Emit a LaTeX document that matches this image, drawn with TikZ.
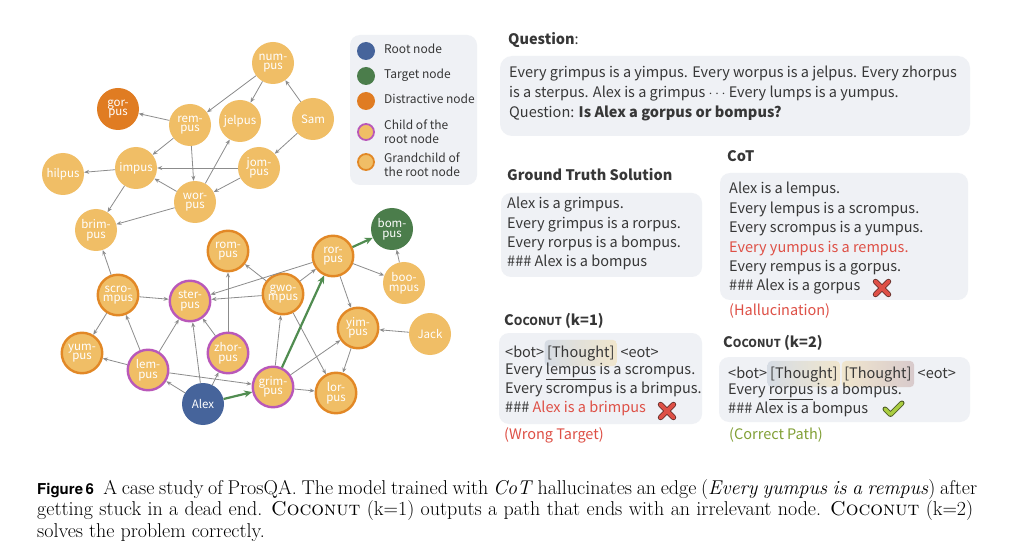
\documentclass[tikz,border=0pt]{standalone}
\usepackage{fontspec}
\usetikzlibrary{arrows.meta}
\newfontfamily\pf{Noto Sans CJK KR}
\newfontfamily\figf{TeX Gyre Heros}
\definecolor{gfill}{RGB}{240,190,102}
\definecolor{gcborder}{RGB}{226,136,38}
\definecolor{chborder}{RGB}{185,88,185}
\definecolor{rootc}{RGB}{70,100,155}
\definecolor{targetc}{RGB}{75,125,75}
\definecolor{distc}{RGB}{224,124,34}
\definecolor{edgec}{RGB}{140,140,140}
\definecolor{pathc}{RGB}{80,140,80}
\definecolor{panelc}{RGB}{239,241,245}
\definecolor{txtc}{RGB}{55,55,55}
\definecolor{redc}{RGB}{222,80,70}
\definecolor{xdark}{RGB}{110,50,45}
\definecolor{okc}{RGB}{130,160,55}
\definecolor{checkc}{RGB}{170,205,65}
\definecolor{ckdark}{RGB}{80,95,40}
\definecolor{thA}{RGB}{214,220,228}
\definecolor{thB}{RGB}{240,230,205}
\definecolor{thC}{RGB}{216,202,204}
\begin{document}
\begin{tikzpicture}[x=1pt,y=-1pt,
  nd/.style={circle, minimum size=42pt, inner sep=0pt, fill=gfill, text=white,
    font=\pf\fontsize{11.5}{9.5}\selectfont, align=center},
  gc/.style={nd, draw=gcborder, line width=2.4pt, minimum size=40.5pt},
  ch/.style={nd, draw=chborder, line width=2.4pt, minimum size=40.5pt},
  rootn/.style={nd, fill=rootc},
  targn/.style={nd, fill=targetc},
  distn/.style={nd, fill=distc},
  ed/.style={draw=edgec, line width=0.8pt, -{Stealth[length=5pt,width=4pt]}},
  gp/.style={draw=pathc, line width=2.2pt, -{Stealth[length=8pt,width=7pt]}},
  txt/.style={font=\pf\fontsize{14.5}{16}\selectfont, text=txtc, inner sep=0pt},
  hdr/.style={font=\pf\bfseries\fontsize{14.5}{16}\selectfont, text=txtc, inner sep=0pt},
  leg/.style={font=\pf\fontsize{12}{14}\selectfont, text=txtc, inner sep=0pt, align=left},
  legc/.style={circle, minimum size=18pt, inner sep=0pt},
  thought/.style={rounded corners=4pt, inner xsep=2.5pt, inner ysep=5.5pt, font=\pf\fontsize{14.5}{16}\selectfont, text=txtc},
  captext/.style={font=\fontsize{20}{21}\selectfont, inner sep=0pt, text=black},
  xmark/.pic={\draw[line width=5.4pt, draw=xdark, line cap=round] (-6.5,-6.5)--(6.5,6.5) (-6.5,6.5)--(6.5,-6.5);
              \draw[line width=3.6pt, draw=redc, line cap=round] (-6.5,-6.5)--(6.5,6.5) (-6.5,6.5)--(6.5,-6.5);},
  ckmark/.pic={\draw[line width=5pt, draw=ckdark, line cap=round, line join=round] (-8,0)--(-2.5,5.5)--(9,-6);
               \draw[line width=3.3pt, draw=checkc, line cap=round, line join=round] (-8,0)--(-2.5,5.5)--(9,-6);}
]
\useasboundingbox (0,0) rectangle (1018,556);
\fill[white] (0,0) rectangle (1018,556);

% ---------- graph nodes ----------
\node[nd] (num) at (273,63) {num-\\pus};
\node[distn] (gor) at (118,109) {gor-\\pus};
\node[nd] (rem) at (190,125) {rem-\\pus};
\node[nd] (jel) at (240,121) {jelpus};
\node[nd] (sam) at (313,119) {Sam};
\node[nd] (imp) at (136,168) {impus};
\node[nd] (hil) at (63,174) {hilpus};
\node[nd] (jom) at (259,168) {jom-\\pus};
\node[nd] (wor) at (195,202) {wor-\\pus};
\node[nd] (brim) at (96,230) {brim-\\pus};
\node[gc] (scro) at (118,295) {scro-\\mpus};
\node[ch] (ster) at (190,301) {ster-\\pus};
\node[gc] (yum) at (82,353) {yum-\\pus};
\node[ch] (lem) at (148,370) {lem-\\pus};
\node[rootn] (alex) at (203,404) {Alex};
\node[gc] (rom) at (228,251) {rom-\\pus};
\node[gc] (ror) at (333,256) {ror-\\pus};
\node[targn] (bom) at (392,229) {bom-\\pus};
\node[gc] (gwo) at (283,294) {gwo-\\mpus};
\node[nd] (boo) at (404,283) {boo-\\mpus};
\node[gc] (yim) at (358,328) {yim-\\pus};
\node[nd] (jack) at (430,334) {Jack};
\node[ch] (zhor) at (228,353) {zhor-\\pus};
\node[ch] (grim) at (273,387) {grim-\\pus};
\node[gc] (lor) at (336,393) {lor-\\pus};

% ---------- edges ----------
\draw[ed] (num) -- (rem);
\draw[ed] (num) -- (jel);
\draw[ed] (sam) -- (num);
\draw[ed] (sam) -- (jom);
\draw[ed] (rem) -- (gor);
\draw[ed] (rem) -- (imp);
\draw[ed] (rem) -- (wor);
\draw[ed] (jom) -- (imp);
\draw[ed] (jom) -- (wor);
\draw[ed] (wor) -- (imp);
\draw[ed] (wor) -- (jel);
\draw[ed] (wor) -- (brim);
\draw[ed] (imp) -- (hil);
\draw[ed] (imp) -- (brim);
\draw[ed] (scro) -- (brim);
\draw[ed] (scro) -- (yum);
\draw[ed] (scro) -- (ster);
\draw[ed] (lem) -- (scro);
\draw[ed] (lem) -- (yum);
\draw[ed] (lem) -- (ster);
\draw[ed] (lem) -- (grim);
\draw[ed] (alex) -- (lem);
\draw[ed] (alex) -- (ster);
\draw[ed] (alex) -- (zhor);
\draw[ed] (zhor) -- (ster);
\draw[ed] (zhor) -- (rom);
\draw[ed] (gwo) -- (ster);
\draw[ed] (gwo) -- (rom);
\draw[ed] (gwo) -- (ror);
\draw[ed] (gwo) -- (lor);
\draw[ed] (ror) -- (ster);
\draw[ed] (ror) -- (boo);
\draw[ed] (ror) -- (yim);
\draw[ed] (grim) -- (gwo);
\draw[ed] (grim) -- (yim);
\draw[ed] (grim) -- (lor);
\draw[ed] (yim) -- (lor);
\draw[ed] (jack) -- (yim);
\draw[ed] (boo) -- (bom);
\draw[gp] (alex) -- (grim);
\draw[gp] (grim) -- (ror);
\draw[gp] (ror) -- (bom);

% ---------- legend ----------
\fill[panelc, rounded corners=10pt] (350,35) rectangle (477,185);
\node[legc, fill=rootc] (l1) at (366,51) {};
\node[legc, fill=targetc] (l2) at (366,76) {};
\node[legc, fill=distc] (l3) at (366,101) {};
\node[legc, fill=gfill, draw=chborder, line width=1.8pt, minimum size=16pt] (l4) at (366,132) {};
\node[legc, fill=gfill, draw=gcborder, line width=1.8pt, minimum size=16pt] (l5) at (366,162) {};
\node[leg, anchor=mid west] (t1) at (384,51) {Root node};
\node[leg, anchor=mid west] (t2) at (384,76) {Target node};
\node[leg, anchor=mid west] (t3) at (384,101) {Distractive node};
\node[leg, anchor=west] (t4) at (384,132) {Child of the\\root node};
\node[leg, anchor=west] (t5) at (384,165) {Grandchild of\\the root node};

% ---------- question ----------
\node[anchor=mid west, inner sep=0pt, text=txtc, font=\pf\fontsize{14.5}{16}\selectfont] (qh) at (508,42) {\textbf{Question}:};
\fill[panelc, rounded corners=12pt] (500,56) rectangle (970,136);
\node[txt, anchor=mid west] (q1) at (509,75) {Every grimpus is a yimpus. Every worpus is a jelpus. Every zhorpus};
\node[txt, anchor=mid west] (q2) at (509,95) {is a sterpus. Alex is a grimpus $\cdots$ Every lumps is a yumpus.};
\node[txt, anchor=mid west] (q3) at (509,115) {Question: \textbf{Is Alex a gorpus or bompus?}};

% ---------- ground truth ----------
\node[hdr, anchor=mid west] (gth) at (507,178) {Ground Truth Solution};
\fill[panelc, rounded corners=10pt] (501,193) rectangle (702,277);
\node[txt, anchor=mid west] (g1) at (507,206) {Alex is a grimpus.};
\node[txt, anchor=mid west] (g2) at (507,226) {Every grimpus is a rorpus.};
\node[txt, anchor=mid west] (g3) at (507,245) {Every rorpus is a bompus.};
\node[txt, anchor=mid west] (g4) at (507,264) {\#\#\# Alex is a bompus};

% ---------- CoT ----------
\node[hdr, anchor=mid west] (coth) at (727,159) {CoT};
\fill[panelc, rounded corners=10pt] (720,173) rectangle (968,300);
\node[txt, anchor=mid west] (c1) at (729,191) {Alex is a lempus.};
\node[txt, anchor=mid west] (c2) at (729,211) {Every lempus is a scrompus.};
\node[txt, anchor=mid west] (c3) at (729,230) {Every scrompus is a yumpus.};
\node[txt, anchor=mid west, text=redc] (c4) at (729,250) {Every yumpus is a rempus.};
\node[txt, anchor=mid west] (c5) at (729,269) {Every rempus is a gorpus.};
\node[txt, anchor=mid west] (c6) at (729,288) {\#\#\# Alex is a gorpus};
\pic at (882,288) {xmark};
\node[txt, anchor=mid west, text=redc] (c7) at (729,313) {(Hallucination)};

% ---------- Coconut k=1 ----------
\node[hdr, anchor=mid west] (k1h) at (504,323) {C{\fontsize{11}{12}\selectfont OCONUT} (k=1)};
\fill[panelc, rounded corners=10pt] (499,333) rectangle (702,424);
\node[txt, anchor=base west] (k1a) at (505,357) {<bot>\ };
\node[thought, anchor=base west, left color=thA, right color=thB] (k1t) at (k1a.base east) {[Thought]};
\node[txt, anchor=base west] (k1b) at (k1t.base east) {\ <eot>};
\node[txt, anchor=mid west] (k1c) at (505,372) {Every \underline{lempus} is a scrompus.};
\node[txt, anchor=mid west] (k1d) at (505,391) {Every scrompus is a brimpus.};
\node[txt, anchor=mid west] (k1e) at (505,410) {\#\#\# \textcolor{redc}{Alex is a brimpus}};
\pic at (667,411) {xmark};
\node[txt, anchor=mid west, text=redc] (k1f) at (504,437) {(Wrong Target)};

% ---------- Coconut k=2 ----------
\node[hdr, anchor=mid west] (k2h) at (723,345) {C{\fontsize{11}{12}\selectfont OCONUT} (k=2)};
\fill[panelc, rounded corners=10pt] (719,357) rectangle (970,422);
\node[txt, anchor=base west] (k2a) at (728,378) {<bot>\ };
\node[thought, anchor=base west, left color=thA, right color=thB] (k2t) at (k2a.base east) {[Thought]};
\node[txt, anchor=base west] (k2s) at (k2t.base east) {\ };
\node[thought, anchor=base west, left color=thB, right color=thC] (k2u) at (k2s.base east) {[Thought]};
\node[txt, anchor=base west] (k2b) at (k2u.base east) {\ <eot>};
\node[txt, anchor=mid west] (k2c) at (728,392) {Every \underline{rorpus} is a bompus.};
\node[txt, anchor=mid west] (k2d) at (728,411) {\#\#\# Alex is a bompus};
\pic at (893,409) {ckmark};
\node[txt, anchor=mid west, text=okc] (k2f) at (729,437) {(Correct Path)};

% ---------- caption ----------
\node[captext, anchor=base west] (cap1) at (37,494) {\makebox[940pt][s]{{\figf\bfseries\fontsize{15}{15}\selectfont Figure\,6}\ \ A case study of ProsQA. The model trained with \textit{CoT} hallucinates an edge (\textit{Every yumpus is a rempus}) after}};
\node[captext, anchor=base west] (cap2) at (37,515) {\makebox[936pt][s]{getting stuck in a dead end. \textsc{Coconut} (k=1) outputs a path that ends with an irrelevant node. \textsc{Coconut} (k=2)}};
\node[captext, anchor=base west] (cap3) at (37,537) {solves the problem correctly.};
\end{tikzpicture}
\end{document}
